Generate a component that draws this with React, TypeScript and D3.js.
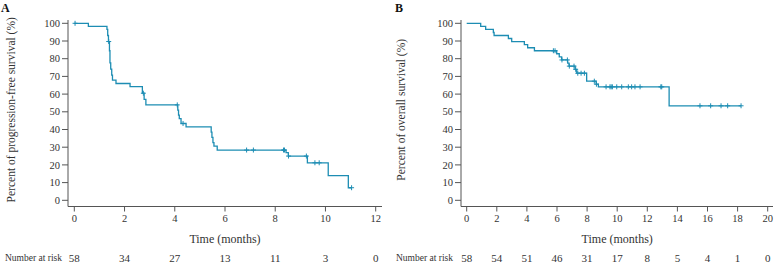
import React from "react";
import * as d3 from "d3";

// ---------- DATA ----------
// Panel A: progression-free survival
const stepTimesA = [0, 0.56, 1.30, 1.33, 1.36, 1.40, 1.42, 1.45, 1.49, 1.52, 1.66, 2.22, 2.71, 2.78, 2.85, 4.12, 4.15, 4.18, 4.25, 4.45, 5.45, 5.48, 5.52, 5.56, 5.69, 8.43, 8.52, 9.28, 10.11, 10.91];
const stepSurvA = [100, 98.3, 96.6, 93.1, 89.7, 84.5, 77.6, 74.1, 70.7, 67.9, 66.0, 64.2, 60.5, 57.0, 53.9, 51.0, 48.1, 46.2, 43.4, 41.5, 38.5, 35.5, 32.6, 30.6, 28.4, 26.9, 25.0, 21.2, 13.9, 7.1];
const censorA = [0.03, 1.37, 2.75, 4.10, 4.33, 6.86, 7.13, 8.33, 8.37, 8.53, 9.24, 9.58, 9.75, 11.04];
const endA = 11.04;
const riskTimesA = [0, 2, 4, 6, 8, 10, 12];
const riskA = [58, 34, 27, 13, 11, 3, 0];

// Panel B: overall survival
const stepTimesB = [0, 0.93, 1.26, 1.77, 1.82, 2.77, 2.99, 3.83, 4.05, 4.50, 5.98, 6.15, 6.31, 6.71, 6.80, 7.20, 7.31, 7.97, 8.60, 8.75, 13.45];
const stepSurvB = [100, 98.3, 96.6, 94.8, 93.1, 91.4, 89.7, 87.9, 86.2, 84.5, 82.8, 81.0, 79.3, 77.5, 75.8, 74.0, 71.8, 67.3, 65.6, 64.1, 53.4];
const censorB = [5.76, 5.87, 6.33, 6.69, 6.82, 7.13, 7.24, 7.38, 7.60, 7.82, 8.48, 8.62, 9.26, 9.52, 9.60, 9.68, 9.97, 10.30, 10.74, 10.96, 11.18, 11.52, 12.90, 12.96, 15.50, 16.21, 16.90, 17.34, 18.23];
const endB = 18.23;
const riskTimesB = [0, 2, 4, 6, 8, 10, 12, 14, 16, 18, 20];
const riskB = [58, 54, 51, 46, 31, 17, 8, 5, 4, 1, 0];

const yTicks = [0, 10, 20, 30, 40, 50, 60, 70, 80, 90, 100];

const COLOR = "#1d8db3";
const AXIS = "#555";
const TEXT = "#333";
const FONT = "'Liberation Serif', 'Times New Roman', serif";

type PanelProps = {
  label: string;
  yTitle: string;
  axisX: number;
  axisEnd: number;
  xRange: [number, number];
  xMax: number;
  stepTimes: number[];
  stepSurv: number[];
  censor: number[];
  end: number;
  riskTimes: number[];
  risk: number[];
  labelX: number;
  yTitleX: number;
  riskLabelX: number;
};

function Panel(p: PanelProps) {
  const x = d3.scaleLinear().domain([0, p.xMax]).range(p.xRange);
  const y = d3.scaleLinear().domain([0, 100]).range([200.3, 23.3]);
  const axisY = 206.5;
  const xTicks = d3.range(0, p.xMax + 1, 2);

  const pts: [number, number][] = p.stepTimes.map((t, i) => [t, p.stepSurv[i]]);
  pts.push([p.end, p.stepSurv[p.stepSurv.length - 1]]);
  const line = d3
    .line<[number, number]>()
    .x((d) => x(d[0]))
    .y((d) => y(d[1]))
    .curve(d3.curveStepAfter);

  const survAt = (t: number) => {
    let v = 100;
    for (let i = 0; i < p.stepTimes.length; i++) if (p.stepTimes[i] <= t) v = p.stepSurv[i];
    return v;
  };

  return (
    <g>
      <text x={p.labelX} y={12} fontFamily={FONT} fontWeight="bold" fontSize={12} fill="#111">
        {p.label}
      </text>
      {/* y axis */}
      <line x1={p.axisX} x2={p.axisX} y1={20} y2={axisY} stroke={AXIS} strokeWidth={1} />
      {yTicks.map((t) => (
        <g key={"y" + t}>
          <line x1={p.axisX - 6} x2={p.axisX} y1={y(t)} y2={y(t)} stroke={AXIS} />
          <text x={p.axisX - 8} y={y(t)} dy="0.35em" textAnchor="end" fontFamily={FONT} fontSize={10.5} fill={TEXT}>
            {t}
          </text>
        </g>
      ))}
      <text
        transform={`translate(${p.yTitleX},${(200.3 + 23.3) / 2 - 2}) rotate(-90)`}
        textAnchor="middle"
        fontFamily={FONT}
        fontSize={11.5}
        fill={TEXT}
      >
        {p.yTitle}
      </text>
      {/* x axis */}
      <line x1={p.axisX} x2={p.axisEnd} y1={axisY} y2={axisY} stroke={AXIS} />
      {xTicks.map((t) => (
        <g key={"x" + t}>
          <line x1={x(t)} x2={x(t)} y1={axisY} y2={axisY + 5} stroke={AXIS} />
          <text x={x(t)} y={axisY + 12} dy="0.35em" textAnchor="middle" fontFamily={FONT} fontSize={10.5} fill={TEXT}>
            {t}
          </text>
        </g>
      ))}
      <text
        x={(p.xRange[0] + p.xRange[1]) / 2}
        y={239}
        dy="0.35em"
        textAnchor="middle"
        fontFamily={FONT}
        fontSize={12}
        fill={TEXT}
      >
        Time (months)
      </text>
      {/* curve */}
      <path d={line(pts) || ""} fill="none" stroke={COLOR} strokeWidth={1.3} />
      {p.censor.map((t, i) => {
        const cx = x(t);
        const cy = y(survAt(t));
        return (
          <g key={"c" + i} stroke={COLOR} strokeWidth={1}>
            <line x1={cx - 2.5} x2={cx + 2.5} y1={cy} y2={cy} />
            <line x1={cx} x2={cx} y1={cy - 2.5} y2={cy + 2.5} />
          </g>
        );
      })}
      {/* risk table */}
      <text x={p.riskLabelX} y={258} dy="0.35em" fontFamily={FONT} fontSize={9.5} fill={TEXT}>
        Number at risk
      </text>
      {p.riskTimes.map((t, i) => (
        <text key={"r" + t} x={x(t)} y={258} dy="0.35em" textAnchor="middle" fontFamily={FONT} fontSize={11} fill={TEXT}>
          {p.risk[i]}
        </text>
      ))}
    </g>
  );
}

export default function App() {
  return (
    <svg width={775} height={263} style={{ position: "absolute", left: 0, top: 0, background: "#fff" }}>
      <rect width={775} height={263} fill="#fff" />
      <Panel
        label="A"
        yTitle="Percent of progression-free survival (%)"
        axisX={68}
        axisEnd={382}
        xRange={[74.3, 375.7]}
        xMax={12}
        stepTimes={stepTimesA}
        stepSurv={stepSurvA}
        censor={censorA}
        end={endA}
        riskTimes={riskTimesA}
        risk={riskA}
        labelX={1}
        yTitleX={15}
        riskLabelX={5}
      />
      <Panel
        label="B"
        yTitle="Percent of overall survival (%)"
        axisX={461}
        axisEnd={773}
        xRange={[466.7, 767.7]}
        xMax={20}
        stepTimes={stepTimesB}
        stepSurv={stepSurvB}
        censor={censorB}
        end={endB}
        riskTimes={riskTimesB}
        risk={riskB}
        labelX={395}
        yTitleX={405}
        riskLabelX={396}
      />
    </svg>
  );
}
